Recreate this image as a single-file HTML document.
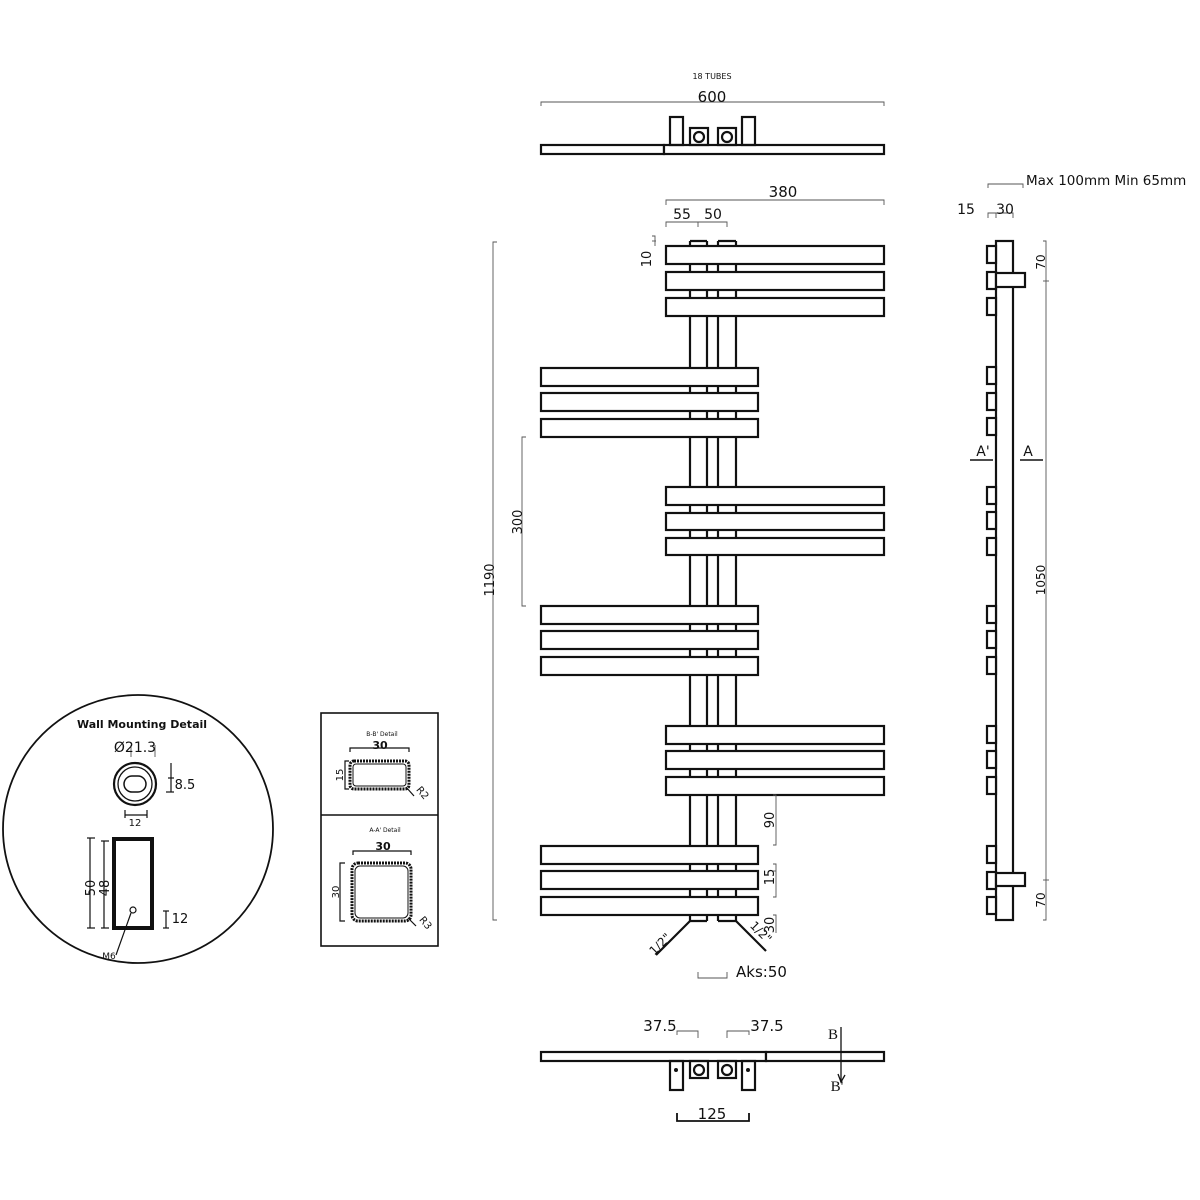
<!DOCTYPE html>
<html><head><meta charset="utf-8"><style>
html,body{margin:0;padding:0;background:#fff}
svg{display:block}
text{font-family:"DejaVu Sans","Liberation Sans",sans-serif;fill:#111}
</style></head><body>
<svg width="1200" height="1200" viewBox="0 0 1200 1200" xmlns="http://www.w3.org/2000/svg">
<g fill="none" stroke="#111" stroke-width="2.2">
<rect x="541" y="145" width="123" height="9" fill="#fff"/>
<rect x="664" y="145" width="220" height="9" fill="#fff"/>
<rect x="670" y="117" width="13" height="28"/>
<rect x="742" y="117" width="13" height="28"/>
<rect x="690" y="128" width="18" height="17"/><circle cx="699" cy="137" r="5"/>
<rect x="718" y="128" width="18" height="17"/><circle cx="727" cy="137" r="5"/>
<line x1="690" y1="241" x2="690" y2="921"/><line x1="707" y1="241" x2="707" y2="921"/>
<line x1="718" y1="241" x2="718" y2="921"/><line x1="736" y1="241" x2="736" y2="921"/>
<line x1="690" y1="241" x2="707" y2="241"/><line x1="718" y1="241" x2="736" y2="241"/>
<line x1="690" y1="921" x2="707" y2="921"/><line x1="718" y1="921" x2="736" y2="921"/>
<g fill="#fff">
<rect x="666" y="246" width="218" height="18"/><rect x="666" y="272" width="218" height="18"/><rect x="666" y="298" width="218" height="18"/>
<rect x="541" y="368" width="217" height="18"/><rect x="541" y="393" width="217" height="18"/><rect x="541" y="419" width="217" height="18"/>
<rect x="666" y="487" width="218" height="18"/><rect x="666" y="513" width="218" height="17"/><rect x="666" y="538" width="218" height="17"/>
<rect x="541" y="606" width="217" height="18"/><rect x="541" y="631" width="217" height="18"/><rect x="541" y="657" width="217" height="18"/>
<rect x="666" y="726" width="218" height="18"/><rect x="666" y="751" width="218" height="18"/><rect x="666" y="777" width="218" height="18"/>
<rect x="541" y="846" width="217" height="18"/><rect x="541" y="871" width="217" height="18"/><rect x="541" y="897" width="217" height="18"/>
</g>
<line x1="690" y1="921" x2="656" y2="955"/><line x1="736" y1="921" x2="766" y2="951"/>
<rect x="541" y="1052" width="225" height="9" fill="#fff"/>
<rect x="766" y="1052" width="118" height="9" fill="#fff"/>
<rect x="670" y="1061" width="13" height="29"/><rect x="742" y="1061" width="13" height="29"/>
<rect x="690" y="1061" width="18" height="17"/><circle cx="699" cy="1070" r="5"/>
<rect x="718" y="1061" width="18" height="17"/><circle cx="727" cy="1070" r="5"/>
<polyline points="677,1113 677,1121 749,1121 749,1113" stroke-width="1.8"/>
<line x1="841" y1="1027" x2="841" y2="1082" stroke-width="1.3"/>
<polyline points="838,1074 841,1082 845,1075" stroke-width="1.3"/>
<rect x="996" y="241" width="17" height="679" fill="#fff"/>
<g fill="#fff">
<rect x="987" y="246" width="9" height="17"/><rect x="987" y="272" width="9" height="17"/><rect x="987" y="298" width="9" height="17"/>
<rect x="987" y="367" width="9" height="17"/><rect x="987" y="393" width="9" height="17"/><rect x="987" y="418" width="9" height="17"/>
<rect x="987" y="487" width="9" height="17"/><rect x="987" y="512" width="9" height="17"/><rect x="987" y="538" width="9" height="17"/>
<rect x="987" y="606" width="9" height="17"/><rect x="987" y="631" width="9" height="17"/><rect x="987" y="657" width="9" height="17"/>
<rect x="987" y="726" width="9" height="17"/><rect x="987" y="751" width="9" height="17"/><rect x="987" y="777" width="9" height="17"/>
<rect x="987" y="846" width="9" height="17"/><rect x="987" y="872" width="9" height="17"/><rect x="987" y="897" width="9" height="17"/>
<rect x="996" y="273" width="29" height="14"/><rect x="996" y="873" width="29" height="13"/>
</g>
<line x1="970" y1="460" x2="993" y2="460" stroke-width="1.5"/><line x1="1020" y1="460" x2="1043" y2="460" stroke-width="1.5"/>
<ellipse cx="138" cy="829" rx="135" ry="134" stroke-width="1.8"/>
<circle cx="135" cy="784" r="21"/><circle cx="135" cy="784" r="17" stroke-width="1.3"/>
<rect x="124" y="776" width="22" height="16" rx="8" stroke-width="1.5"/>
<rect x="114" y="839" width="38" height="89" stroke-width="4"/>
<circle cx="133" cy="910" r="3" stroke-width="1.2"/>
<line x1="131" y1="913" x2="116" y2="955" stroke-width="1.2"/>
<g stroke-width="1.2">
<line x1="90" y1="838" x2="90" y2="928"/><line x1="87" y1="838" x2="95" y2="838"/><line x1="87" y1="928" x2="95" y2="928"/>
<line x1="104" y1="841" x2="104" y2="928"/><line x1="101" y1="841" x2="109" y2="841"/><line x1="101" y1="928" x2="109" y2="928"/>
<line x1="166" y1="911" x2="166" y2="928"/><line x1="163" y1="911" x2="169" y2="911"/><line x1="163" y1="928" x2="169" y2="928"/>
<line x1="171" y1="763" x2="171" y2="792"/><line x1="168" y1="778" x2="174" y2="778"/><line x1="166" y1="792" x2="174" y2="792"/>
<line x1="125" y1="815" x2="147" y2="815"/><line x1="125" y1="810" x2="125" y2="818"/><line x1="147" y1="810" x2="147" y2="818"/>
</g>
<rect x="321" y="713" width="117" height="233" stroke-width="1.6"/>
<line x1="321" y1="815" x2="438" y2="815" stroke-width="1.6"/>
<rect x="350" y="761" width="59" height="28" rx="4" stroke-width="3" stroke-dasharray="2 1"/>
<rect x="353" y="764" width="53" height="22" rx="3" stroke-width="1"/>
<rect x="352" y="863" width="59" height="58" rx="6" stroke-width="3" stroke-dasharray="2 1"/>
<rect x="355" y="866" width="53" height="52" rx="5" stroke-width="1"/>
<g stroke-width="1.2">
<polyline points="350,752 350,748 409,748 409,752"/>
<polyline points="353,855 353,851 411,851 411,855"/>
<polyline points="349,761 345,761 345,789 349,789"/>
<polyline points="345,863 340,863 340,921 345,921"/>
<line x1="406" y1="787" x2="414" y2="796"/><line x1="408" y1="918" x2="416" y2="926"/>
</g>
</g>
<circle cx="676" cy="1070" r="2" fill="#111"/><circle cx="748" cy="1070" r="2" fill="#111"/>
<g fill="none" stroke="#555" stroke-width="0.9">
<polyline points="541,106 541,102 884,102 884,106"/>
<polyline points="666,205 666,200 884,200 884,205"/>
<polyline points="666,227 666,222 727,222 727,227"/><line x1="698" y1="222" x2="698" y2="227"/>
<polyline points="497,242 493,242 493,920 497,920"/>
<polyline points="526,437 522,437 522,606 526,606"/>
<polyline points="652,236 655,236 655,246"/><line x1="652" y1="241" x2="656" y2="241"/>
<polyline points="773,795 776,795 776,845 773,845"/>
<polyline points="773,864 776,864 776,897 773,897"/><line x1="773" y1="871" x2="776" y2="871"/>
<polyline points="773,915 776,915 776,933"/>
<polyline points="698,972 698,978 727,978 727,972"/>
<polyline points="677,1035 677,1031 698,1031 698,1038"/>
<polyline points="727,1038 727,1031 749,1031 749,1035"/>
<polyline points="988,188 988,184 1023,184 1023,188"/>
<polyline points="988,218 988,213 1013,213 1013,218"/><line x1="996" y1="213" x2="996" y2="218"/>
<polyline points="1043,241 1046,241 1046,920 1043,920"/>
<line x1="1043" y1="281" x2="1049" y2="281"/><line x1="1043" y1="880" x2="1049" y2="880"/>
<line x1="131" y1="745" x2="131" y2="757"/><line x1="155" y1="745" x2="155" y2="757"/>
</g>
<text x="712" y="79" font-size="8" text-anchor="middle">18 TUBES</text>
<text x="712" y="102" font-size="15" text-anchor="middle">600</text>
<text x="783" y="197" font-size="15" text-anchor="middle">380</text>
<text x="682" y="219" font-size="14" text-anchor="middle">55</text>
<text x="713" y="219" font-size="14" text-anchor="middle">50</text>
<text transform="translate(651,259) rotate(-90)" font-size="13" text-anchor="middle">10</text>
<text transform="translate(494,580) rotate(-90)" font-size="13" text-anchor="middle">1190</text>
<text transform="translate(522,522) rotate(-90)" font-size="13" text-anchor="middle">300</text>
<text transform="translate(774,820) rotate(-90)" font-size="13" text-anchor="middle">90</text>
<text transform="translate(774,877) rotate(-90)" font-size="13" text-anchor="middle">15</text>
<text transform="translate(774,925) rotate(-90)" font-size="13" text-anchor="middle">30</text>
<text transform="translate(663,947) rotate(-45)" font-size="12" text-anchor="middle">1/2"</text>
<text transform="translate(758,935) rotate(45)" font-size="12" text-anchor="middle">1/2"</text>
<text x="736" y="977" font-size="15">Aks:50</text>
<text x="660" y="1031" font-size="15" text-anchor="middle">37.5</text>
<text x="767" y="1031" font-size="15" text-anchor="middle">37.5</text>
<text x="833" y="1039" font-size="15" text-anchor="middle" style="font-family:'Liberation Serif',serif">B</text>
<text x="837" y="1091" font-size="15" text-anchor="middle" style="font-family:'Liberation Serif',serif">B'</text>
<text x="712" y="1119" font-size="15" text-anchor="middle">125</text>
<text x="1026" y="185" font-size="13.5">Max 100mm Min 65mm</text>
<text x="966" y="214" font-size="14" text-anchor="middle">15</text>
<text x="1005" y="214" font-size="14" text-anchor="middle">30</text>
<text transform="translate(1045,262) rotate(-90)" font-size="12" text-anchor="middle">70</text>
<text transform="translate(1045,580) rotate(-90)" font-size="12" text-anchor="middle">1050</text>
<text transform="translate(1045,900) rotate(-90)" font-size="12" text-anchor="middle">70</text>
<text x="983" y="456" font-size="14" text-anchor="middle">A'</text>
<text x="1028" y="456" font-size="14" text-anchor="middle">A</text>
<text x="142" y="728" font-size="11" font-weight="bold" text-anchor="middle">Wall Mounting Detail</text>
<text x="135" y="752" font-size="14" text-anchor="middle">Ø21.3</text>
<text x="185" y="789" font-size="13" text-anchor="middle">8.5</text>
<text x="135" y="826" font-size="10" text-anchor="middle">12</text>
<text transform="translate(95,888) rotate(-90)" font-size="13" text-anchor="middle">50</text>
<text transform="translate(109,888) rotate(-90)" font-size="13" text-anchor="middle">48</text>
<text x="180" y="923" font-size="13" text-anchor="middle">12</text>
<text x="109" y="959" font-size="9" text-anchor="middle">M6</text>
<text x="382" y="736" font-size="6" text-anchor="middle">B-B' Detail</text>
<text x="380" y="749" font-size="11" font-weight="bold" text-anchor="middle">30</text>
<text transform="translate(343,775) rotate(-90)" font-size="10" text-anchor="middle">15</text>
<text transform="translate(420,795) rotate(50)" font-size="10" text-anchor="middle">R2</text>
<text x="385" y="832" font-size="6" text-anchor="middle">A-A' Detail</text>
<text x="383" y="850" font-size="11" font-weight="bold" text-anchor="middle">30</text>
<text transform="translate(339,892) rotate(-90)" font-size="10" text-anchor="middle">30</text>
<text transform="translate(423,925) rotate(50)" font-size="10" text-anchor="middle">R3</text>
</svg>
</body></html>
